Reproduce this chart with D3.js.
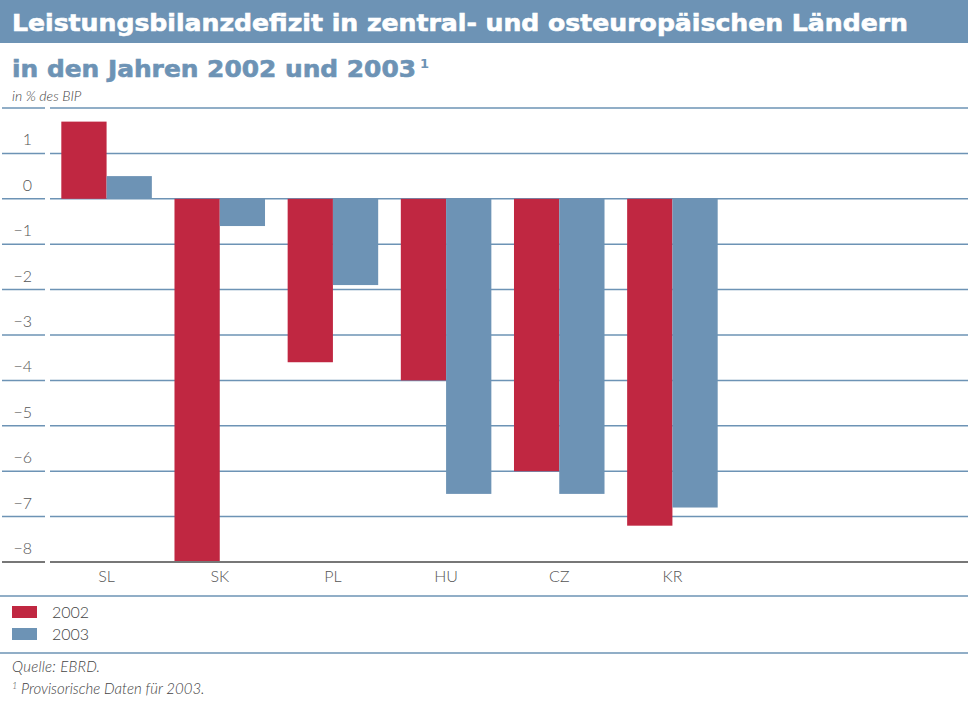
<!DOCTYPE html>
<html>
<head>
<meta charset="utf-8">
<script src="https://cdn.jsdelivr.net/npm/d3@7"></script>
<style>
body{margin:0;background:#fff;}
text{font-family:Lato,"Open Sans",sans-serif;}
</style>
</head>
<body>
<script>
var w=968, h=701;
var countries=["SL","SK","PL","HU","CZ","KR"];
var years=["2002","2003"];
var v2002=[1.7,-8.0,-3.6,-4.0,-6.0,-7.2];
var v2003=[0.5,-0.6,-1.9,-6.5,-6.5,-6.8];
var yTicks=[1,0,-1,-2,-3,-4,-5,-6,-7,-8];
var gridVals=[2,1,0,-1,-2,-3,-4,-5,-6,-7];
var colors={"2002":"#c02741","2003":"#6d93b5"};
var blue="#6d93b5";

var svg=d3.select("body").append("svg")
	.attr("width",w)
	.attr("height",h);

// title banner
svg.append("rect").attr("x",0).attr("y",0).attr("width",w).attr("height",43).attr("fill",blue);
svg.append("text").attr("x",12).attr("y",31)
	.attr("fill","#fff")
	.style("font-family","'DejaVu Sans',sans-serif").style("font-weight","bold").style("font-size","23px")
	.attr("stroke","#fff").attr("stroke-width",0.6)
	.attr("textLength",896).attr("lengthAdjust","spacingAndGlyphs")
	.text("Leistungsbilanzdefizit in zentral- und osteuropäischen Ländern");
svg.append("text").attr("x",12).attr("y",77)
	.attr("fill",blue)
	.style("font-family","'DejaVu Sans',sans-serif").style("font-weight","bold").style("font-size","23px")
	.attr("stroke",blue).attr("stroke-width",0.6)
	.attr("textLength",404).attr("lengthAdjust","spacingAndGlyphs")
	.text("in den Jahren 2002 und 2003");
svg.append("text").attr("x",420).attr("y",68).attr("fill",blue)
	.style("font-family","'DejaVu Sans',sans-serif").style("font-weight","bold").style("font-size","13px")
	.text("1");
svg.append("text").attr("x",12).attr("y",101).attr("fill","#444")
	.style("font-style","italic").style("font-weight","300").style("font-size","14px")
	.text("in % des BIP");

var y=d3.scaleLinear().domain([-8,2]).range([562,108]);
var x0=d3.scaleBand().domain(countries).range([50,729]).paddingInner(0.2).paddingOuter(0.1);
var x1=d3.scaleBand().domain(years).range([0,x0.bandwidth()]);

// grid
var grid=svg.append("g");
gridVals.forEach(function(d){
	grid.append("line").attr("x1",2).attr("x2",45).attr("y1",y(d)).attr("y2",y(d))
		.attr("stroke",blue).attr("stroke-width",1.5);
	grid.append("line").attr("x1",50).attr("x2",w).attr("y1",y(d)).attr("y2",y(d))
		.attr("stroke",blue).attr("stroke-width",1.5);
});

// y labels
svg.selectAll(".ylab")
	.data(yTicks)
	.enter()
	.append("text")
		.attr("class","ylab")
		.attr("x",32)
		.attr("y",function(d){return y(d)-8;})
		.attr("text-anchor","end")
		.attr("fill","#555")
		.style("font-weight","300")
		.style("font-size","16px")
		.text(function(d){return d<0 ? "\u2212"+Math.abs(d) : d;});

// bars
var rows=countries.map(function(c,i){return {c:c, vals:[{k:"2002",v:v2002[i]},{k:"2003",v:v2003[i]}]};});
var groups=svg.selectAll(".grp")
	.data(rows)
	.enter()
	.append("g")
		.attr("class","grp")
		.attr("transform",function(d){return "translate("+x0(d.c)+",0)";});
groups.selectAll("rect")
	.data(function(d){return d.vals;})
	.enter()
	.append("rect")
		.attr("x",function(d){return x1(d.k);})
		.attr("y",function(d){return y(Math.max(0,d.v));})
		.attr("width",x1.bandwidth())
		.attr("height",function(d){return Math.abs(y(d.v)-y(0));})
		.attr("fill",function(d){return colors[d.k];});

// bottom axis line
svg.append("line").attr("x1",2).attr("x2",45).attr("y1",y(-8)).attr("y2",y(-8))
	.attr("stroke","#777").attr("stroke-width",2);
svg.append("line").attr("x1",50).attr("x2",w).attr("y1",y(-8)).attr("y2",y(-8))
	.attr("stroke","#777").attr("stroke-width",2);

// x labels
var xAxis=svg.append("g").attr("transform","translate(0,"+y(-8)+")")
	.call(d3.axisBottom(x0).tickSize(0).tickPadding(9));
xAxis.select(".domain").remove();
xAxis.selectAll("text").attr("fill","#555").style("font-size","16px").style("font-weight","300")
	.style("font-family","Lato,'Open Sans',sans-serif");

// separators
svg.append("line").attr("x1",0).attr("x2",w).attr("y1",596).attr("y2",596).attr("stroke",blue).attr("stroke-width",1.5);
svg.append("line").attr("x1",0).attr("x2",w).attr("y1",653).attr("y2",653).attr("stroke",blue).attr("stroke-width",1.5);

// legend
var leg=svg.selectAll(".leg")
	.data(years)
	.enter()
	.append("g")
		.attr("class","leg")
		.attr("transform",function(d,i){return "translate(12,"+(606+i*22)+")";});
leg.append("rect").attr("width",25).attr("height",12).attr("fill",function(d){return colors[d];});
leg.append("text").attr("x",40).attr("y",12).attr("fill","#444").style("font-size","16px").style("font-weight","300")
	.text(function(d){return d;});

// footer
svg.append("text").attr("x",12).attr("y",672).attr("fill","#444")
	.style("font-style","italic").style("font-weight","300").style("font-size","15px")
	.attr("textLength",88).attr("lengthAdjust","spacing")
	.text("Quelle: EBRD.");
svg.append("text").attr("x",12).attr("y",694).attr("fill","#444")
	.style("font-style","italic").style("font-weight","300").style("font-size","15px")
	.html("<tspan font-size='9px' dy='-5'>1</tspan><tspan dy='5'> Provisorische Daten für 2003.</tspan>");
</script>
</body>
</html>
